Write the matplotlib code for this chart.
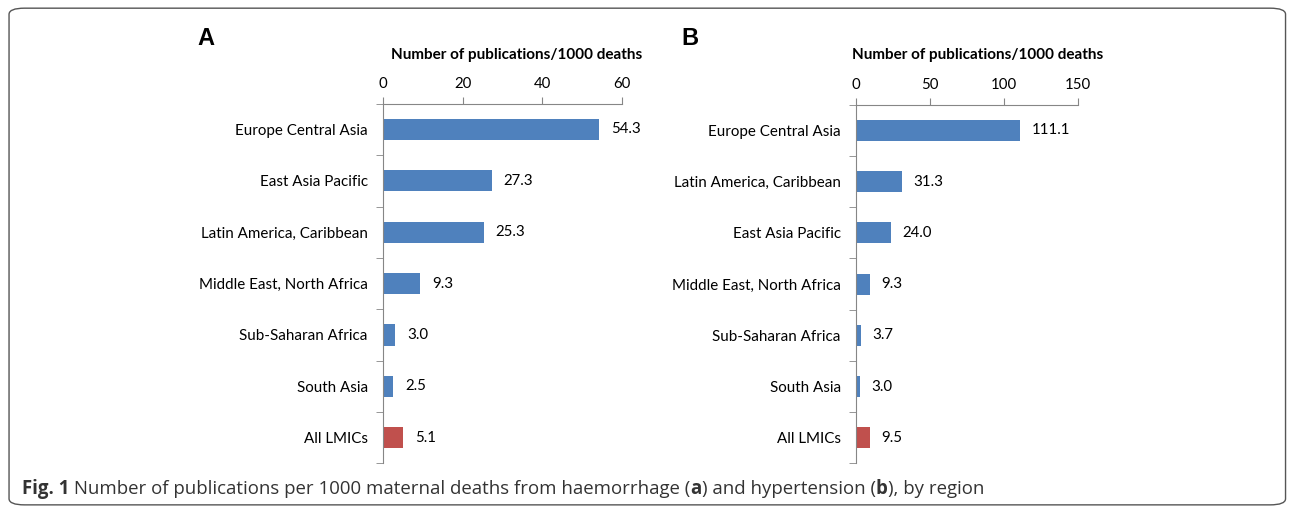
import matplotlib.pyplot as plt
from matplotlib.patches import FancyBboxPatch

# data
regions_a = ["Europe Central Asia", "East Asia Pacific", "Latin America, Caribbean",
             "Middle East, North Africa", "Sub-Saharan Africa", "South Asia", "All LMICs"]
values_a = [54.3, 27.3, 25.3, 9.3, 3.0, 2.5, 5.1]

regions_b = ["Europe Central Asia", "Latin America, Caribbean", "East Asia Pacific",
             "Middle East, North Africa", "Sub-Saharan Africa", "South Asia", "All LMICs"]
values_b = [111.1, 31.3, 24.0, 9.3, 3.7, 3.0, 9.5]

blue = "#4F81BD"
red = "#C0504D"
axis_col = "#868686"
font = ["Lato", "DejaVu Sans"]

fig = plt.figure(figsize=(12.92, 5.11), dpi=100)


def panel(rect, labels, vals, xmax, step, letter, letter_x, title_x, label_pad):
    ax = fig.add_axes(rect)
    n = len(labels)
    pos = list(range(n))
    cols = [blue] * (n - 1) + [red]
    ax.barh(pos, vals, height=0.41, color=cols)
    ax.set_ylim(n - 0.5, -0.5)
    ax.set_xlim(0, xmax)
    ax.set_xticks(range(0, xmax + 1, step))
    ax.xaxis.tick_top()
    ax.tick_params(axis="x", direction="out", length=5, color=axis_col,
                   labelsize=10.8, pad=4)
    ax.set_yticks(pos)
    ax.set_yticklabels(labels, fontsize=10.9, family=font)
    ax.set_yticks([p + 0.5 for p in range(-1, n)], minor=True)
    ax.tick_params(axis="y", which="major", length=0, pad=11)
    ax.tick_params(axis="y", which="minor", direction="out", length=5, color=axis_col)
    for lbl in ax.get_xticklabels():
        lbl.set_family(font)
    for s in ["right", "bottom"]:
        ax.spines[s].set_visible(False)
    for s in ["left", "top"]:
        ax.spines[s].set_color(axis_col)
    for p, v in zip(pos, vals):
        ax.text(v + label_pad, p, f"{v:.1f}", va="center", ha="left",
                fontsize=10.8, family=font)
    fig.text(letter_x, 0.925, letter, fontsize=17, fontweight="bold",
             family="Liberation Sans", va="center")
    fig.text(title_x, 0.893, "Number of publications/1000 deaths", fontsize=11,
             fontweight="bold", family=font, ha="center", va="center")
    return ax


panel([0.2964, 0.0930, 0.1850, 0.7040], regions_a, values_a, 60, 20, "A",
      0.153, 0.400, 3.0)
panel([0.6625, 0.0930, 0.1719, 0.7020], regions_b, values_b, 150, 50, "B",
      0.527, 0.757, 7.5)

# border
fig.patches.append(FancyBboxPatch((0.007, 0.012), 0.988, 0.972,
                                  boxstyle="round,pad=0,rounding_size=0.012",
                                  transform=fig.transFigure, fill=False,
                                  edgecolor="#555555", linewidth=1.0))

# caption
parts = [("Fig. 1", "bold"), (" Number of publications per 1000 maternal deaths from haemorrhage (", "normal"),
         ("a", "bold"), (") and hypertension (", "normal"), ("b", "bold"), ("), by region", "normal")]
fig.canvas.draw()
r = fig.canvas.get_renderer()
x = 0.017
for txt, w in parts:
    t = fig.text(x, 0.043, txt, fontsize=13.4, fontweight=w, family=["Open Sans", "DejaVu Sans"],
                 color="#333333", va="center", ha="left")
    bb = t.get_window_extent(renderer=r)
    x += bb.width / fig.bbox.width

fig.savefig("out.png", dpi=100)
